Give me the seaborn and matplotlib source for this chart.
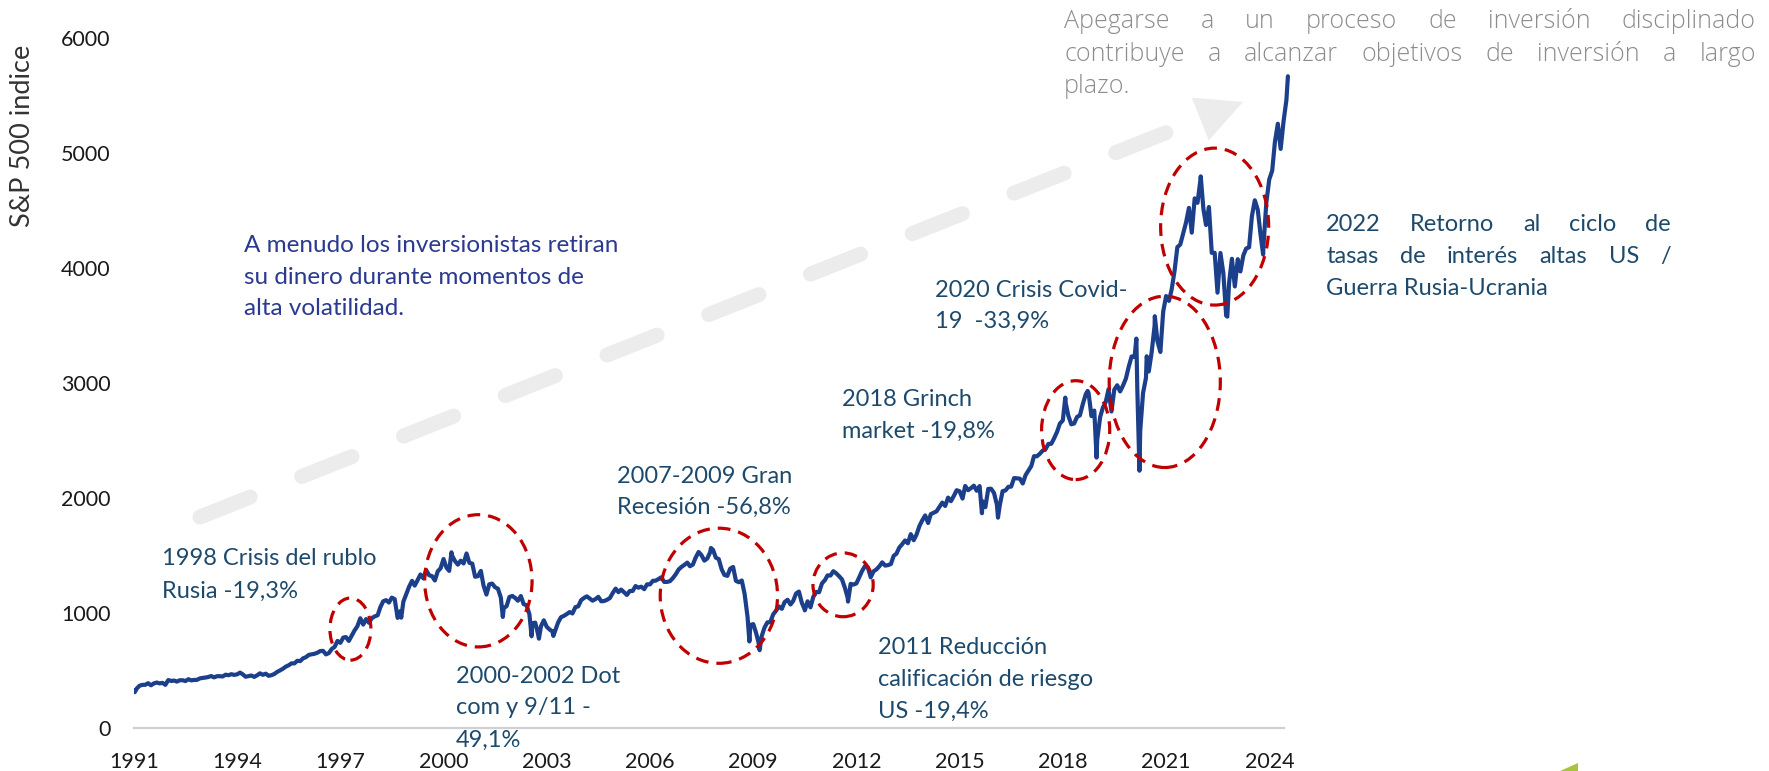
import numpy as np
import pandas as pd
import seaborn as sns
import matplotlib.pyplot as plt
from matplotlib.patches import Ellipse, Polygon
from matplotlib.lines import Line2D

# S&P 500, cierre mensual (ene-1991 ... jun-2024)
sp500_1990s = [
    343.9, 367.1, 375.2, 375.3, 389.8, 371.2, 387.8, 395.4, 387.9, 392.5, 375.2, 417.1,
    408.8, 412.7, 403.7, 414.9, 415.4, 408.1, 424.2, 414.0, 417.8, 418.7, 431.4, 435.7,
    438.8, 443.4, 451.7, 440.2, 450.2, 450.5, 448.1, 463.6, 458.9, 467.8, 461.8, 466.5,
    481.6, 467.1, 445.8, 451.0, 456.5, 444.3, 458.3, 475.5, 462.7, 472.4, 453.7, 459.3,
    470.4, 487.4, 500.7, 514.7, 533.4, 544.8, 562.1, 561.9, 584.4, 581.5, 605.4, 615.9,
    636.0, 640.4, 645.5, 654.2, 669.1, 670.6, 639.9, 652.0, 687.3, 705.3, 757.0, 740.7,
    786.2, 790.8, 757.1, 801.3, 848.3, 885.1, 954.3, 899.5, 947.3, 914.6, 955.4, 970.4,
    980.3, 1049.3, 1101.8, 1111.8, 1090.8, 1133.8, 1120.7, 957.3, 1017.0, 1098.7, 1163.6, 1229.2,
    1279.6, 1238.3, 1286.4, 1335.2, 1301.8, 1372.7, 1328.7, 1320.4, 1282.7, 1362.9, 1388.9, 1469.3,
]
sp500_2000s = [
    1394.5, 1366.4, 1498.6, 1452.4, 1420.6, 1454.6, 1430.8, 1517.7, 1436.5, 1429.4, 1315.2, 1320.3,
    1366.0, 1239.9, 1160.3, 1249.5, 1255.8, 1224.4, 1211.2, 1133.6, 1040.9, 1059.8, 1139.5, 1148.1,
    1130.2, 1106.7, 1147.4, 1076.9, 1067.1, 989.8, 911.6, 916.1, 815.3, 885.8, 936.3, 879.8,
    855.7, 841.2, 848.2, 916.9, 963.6, 974.5, 990.3, 1008.0, 996.0, 1050.7, 1058.2, 1111.9,
    1131.1, 1144.9, 1126.2, 1107.3, 1120.7, 1140.8, 1101.7, 1104.2, 1114.6, 1130.2, 1173.8, 1211.9,
    1181.3, 1203.6, 1180.6, 1156.9, 1191.5, 1191.3, 1234.2, 1220.3, 1228.8, 1207.0, 1249.5, 1248.3,
    1280.1, 1280.7, 1294.9, 1310.6, 1270.1, 1270.2, 1276.7, 1303.8, 1335.9, 1377.9, 1400.6, 1418.3,
    1438.2, 1406.8, 1420.9, 1482.4, 1530.6, 1503.4, 1455.3, 1474.0, 1527.0, 1549.4, 1481.1, 1468.4,
    1378.6, 1330.6, 1322.7, 1385.6, 1400.4, 1280.0, 1267.4, 1282.8, 1166.4, 968.8, 896.2, 903.3,
    825.9, 735.1, 797.9, 872.8, 919.1, 919.3, 987.5, 1020.6, 1057.1, 1036.2, 1095.6, 1115.1,
]
sp500_2010s = [
    1073.9, 1104.5, 1169.4, 1186.7, 1089.4, 1030.7, 1101.6, 1049.3, 1141.2, 1183.3, 1180.6, 1257.6,
    1286.1, 1327.2, 1325.8, 1363.6, 1345.2, 1320.6, 1292.3, 1218.9, 1131.4, 1253.3, 1247.0, 1257.6,
    1312.4, 1365.7, 1408.5, 1397.9, 1310.3, 1362.2, 1379.3, 1406.6, 1440.7, 1412.2, 1416.2, 1426.2,
    1498.1, 1514.7, 1569.2, 1597.6, 1630.7, 1606.3, 1685.7, 1633.0, 1681.6, 1756.5, 1805.8, 1848.4,
    1782.6, 1859.5, 1872.3, 1884.0, 1923.6, 1960.2, 1930.7, 2003.4, 1972.3, 2018.1, 2067.6, 2058.9,
    1995.0, 2104.5, 2067.9, 2085.5, 2107.4, 2063.1, 2103.8, 1972.2, 1920.0, 2079.4, 2080.4, 2043.9,
    1940.2, 1932.2, 2059.7, 2065.3, 2097.0, 2098.9, 2173.6, 2171.0, 2168.3, 2126.2, 2198.8, 2238.8,
    2278.9, 2363.6, 2362.7, 2384.2, 2411.8, 2423.4, 2470.3, 2471.7, 2519.4, 2575.3, 2647.6, 2673.6,
    2823.8, 2713.8, 2640.9, 2648.1, 2705.3, 2718.4, 2816.3, 2901.5, 2914.0, 2711.7, 2760.2, 2506.9,
    2704.1, 2784.5, 2834.4, 2945.8, 2752.1, 2941.8, 2980.4, 2926.5, 2976.7, 3037.6, 3141.0, 3230.8,
]
sp500_2020s = [
    3225.5, 2954.2, 2584.6, 2912.4, 3044.3, 3100.3, 3271.1, 3500.3, 3363.0, 3270.0, 3621.6, 3756.1,
    3714.2, 3811.2, 3972.9, 4181.2, 4204.1, 4297.5, 4395.3, 4522.7, 4307.5, 4605.4, 4567.0, 4766.2,
    4515.6, 4373.9, 4530.4, 4131.9, 4132.2, 3785.4, 4130.3, 3955.0, 3585.6, 3872.0, 4080.1, 3839.5,
    4076.6, 3970.2, 4109.3, 4169.5, 4179.8, 4450.4, 4589.0, 4507.7, 4288.1, 4193.8, 4567.8, 4769.8,
    4845.7, 5096.3, 5254.4, 5035.7, 5277.5, 5460.5,
]

# maximos / minimos intramensuales visibles en el grafico
extreme_dates = [
    "1991-01-02", "1991-01-09", "1998-10-08", "2000-03-24", "2001-09-21", "2002-07-23",
    "2002-10-09", "2003-03-11", "2007-10-09", "2008-11-20", "2009-03-09", "2010-07-02",
    "2011-10-03", "2015-08-25", "2016-02-11", "2018-01-26", "2018-09-20", "2018-12-24",
    "2020-02-19", "2020-03-23", "2020-06-08", "2020-09-02", "2022-01-03", "2022-10-12",
    "2023-10-27", "2024-07-16",
]
extreme_values = [
    326.4, 311.5, 959.4, 1527.5, 965.8, 797.7,
    776.8, 800.7, 1565.2, 752.4, 676.5, 1022.6,
    1099.2, 1867.6, 1829.1, 2872.9, 2930.8, 2351.1,
    3386.2, 2237.4, 3232.4, 3580.8, 4796.6, 3577.0,
    4117.4, 5667.2,
]

tick_years = list(range(1991, 2025, 3))
y_ticks = [0, 1000, 2000, 3000, 4000, 5000, 6000]

# circulos: (anio centro, valor centro, ancho en anios, alto en puntos)
circles = [
    (1997.29, 860, 1.19, 540),
    (2001.01, 1280, 3.12, 1150),
    (2008.00, 1150, 3.41, 1175),
    (2011.61, 1245, 1.75, 555),
    (2018.37, 2590, 1.98, 860),
    (2020.96, 3010, 3.23, 1490),
    (2022.41, 4360, 3.14, 1365),
]

LINE = "#1b3f8b"
RED = "#c00000"
TEAL = "#1d4a6c"
NAVY = "#2b3990"
GRAY_TXT = "#8c8c8c"
ARROW = "#ececec"

monthly = sp500_1990s + sp500_2000s + sp500_2010s + sp500_2020s
m_dates = pd.date_range("1991-01-01", periods=len(monthly), freq="MS") + pd.offsets.MonthEnd(0)
dates = list(m_dates) + list(pd.to_datetime(extreme_dates))
df = pd.DataFrame({"fecha": dates, "indice": monthly + extreme_values}).sort_values("fecha")
df["anio"] = df["fecha"].dt.year + (df["fecha"].dt.dayofyear - 1) / 365.25

sns.set_style("white")
plt.rcParams["font.family"] = ["Lato", "DejaVu Sans"]

W, H = 1769, 771
fig = plt.figure(figsize=(W / 100, H / 100), dpi=100)
ax = fig.add_axes([134 / W, 1 - 728 / H, (1290 - 134) / W, (728 - 38) / H])
ax.patch.set_alpha(0)

sns.lineplot(data=df, x="anio", y="indice", ax=ax, color=LINE, linewidth=3, zorder=3)

ax.set_xlim(1991, 2024.6)
ax.set_ylim(0, 6000)
ax.set_xticks(tick_years)
ax.set_xticklabels([str(t) for t in tick_years])
ax.set_yticks(y_ticks)
ax.set_xlabel("")
ax.set_ylabel("")
for s in ["top", "right", "left"]:
    ax.spines[s].set_visible(False)
ax.spines["bottom"].set_color("#d0d0d0")
ax.spines["bottom"].set_linewidth(1.6)
ax.spines["bottom"].set_bounds(1991, 2024.42)
ax.tick_params(axis="x", length=6, width=1.3, color="#d0d0d0", labelsize=15.5,
               labelcolor="#1a1a1a", pad=11)
ax.tick_params(axis="y", length=0, labelsize=15.5, labelcolor="#1a1a1a", pad=17)

for cx, cy, w, h in circles:
    ax.add_patch(Ellipse((cx, cy), w, h, fill=False, edgecolor=RED, linewidth=2.3,
                         linestyle=(0, (4, 2.5)), zorder=4))

fig.text(22 / W, 1 - 136 / H, "S&P 500 indice", rotation=90, ha="center", va="center",
         fontsize=19.5, color="#333333")

# flecha gris de fondo
x0, y0, tip_x, tip_y = 200, 517, 1243, 102
d = np.array([tip_x - x0, tip_y - y0], dtype=float)
u = d / np.hypot(*d)
n = np.array([-u[1], u[0]])
base = np.array([tip_x, tip_y]) - 46 * u
fig.add_artist(Line2D([x0 / W, base[0] / W], [1 - y0 / H, 1 - base[1] / H],
                      transform=fig.transFigure, color=ARROW, linewidth=10.8,
                      linestyle=(0, (3.6, 3.7)), dash_capstyle="round", zorder=-1))
head = [base + 23 * n, base - 23 * n, np.array([tip_x, tip_y])]
fig.add_artist(Polygon([(p[0] / W, 1 - p[1] / H) for p in head], closed=True,
                       transform=fig.transFigure, facecolor=ARROW, edgecolor="none", zorder=-1))

fig.add_artist(Polygon([(1560 / W, 0), (1578 / W, 8 / H), (1578 / W, 0)], closed=True,
                       transform=fig.transFigure, facecolor="#a8c43c", edgecolor="none"))

renderer = fig.canvas.get_renderer()


def write_lines(lines, left, baselines, color, size, right=None, **kw):
    for i, (line, yb) in enumerate(zip(lines, baselines)):
        if right is None or i == len(lines) - 1:
            fig.text(left / W, 1 - yb / H, line, color=color, fontsize=size, va="baseline", **kw)
            continue
        words = line.split(" ")
        arts = [fig.text(left / W, 1 - yb / H, w, color=color, fontsize=size, va="baseline", **kw)
                for w in words]
        widths = [a.get_window_extent(renderer).width for a in arts]
        gap = (right - left - sum(widths)) / (len(words) - 1)
        x = left
        for a, wd in zip(arts, widths):
            a.set_x(x / W)
            x += wd + gap


write_lines(["Apegarse a un proceso de inversión disciplinado",
             "contribuye a alcanzar objetivos de inversión a largo",
             "plazo."], 1064, [28, 61, 93], GRAY_TXT, 18, right=1756,
            family=["Open Sans", "DejaVu Sans"], fontweight="light")
write_lines(["2022 Retorno al ciclo de", "tasas de interés altas US /",
             "Guerra Rusia-Ucrania"], 1326, [231, 263, 295], TEAL, 17, right=1671)
write_lines(["A menudo los inversionistas retiran", "su dinero durante momentos de",
             "alta volatilidad."], 244, [252, 284, 315], NAVY, 17.5)
write_lines(["2020 Crisis Covid-", "19  -33,9%"], 935, [297, 328], TEAL, 17)
write_lines(["2018 Grinch", "market -19,8%"], 842, [406, 438], TEAL, 17)
write_lines(["2007-2009 Gran", "Recesión -56,8%"], 617, [483, 514], TEAL, 17)
write_lines(["1998 Crisis del rublo", "Rusia -19,3%"], 162, [565, 598], TEAL, 17)
write_lines(["2000-2002 Dot", "com y 9/11 -", "49,1%"], 456, [683, 714, 747], TEAL, 17)
write_lines(["2011 Reducción", "calificación de riesgo", "US -19,4%"], 878, [654, 686, 718], TEAL, 17)

fig.savefig("out.png", dpi=100)
